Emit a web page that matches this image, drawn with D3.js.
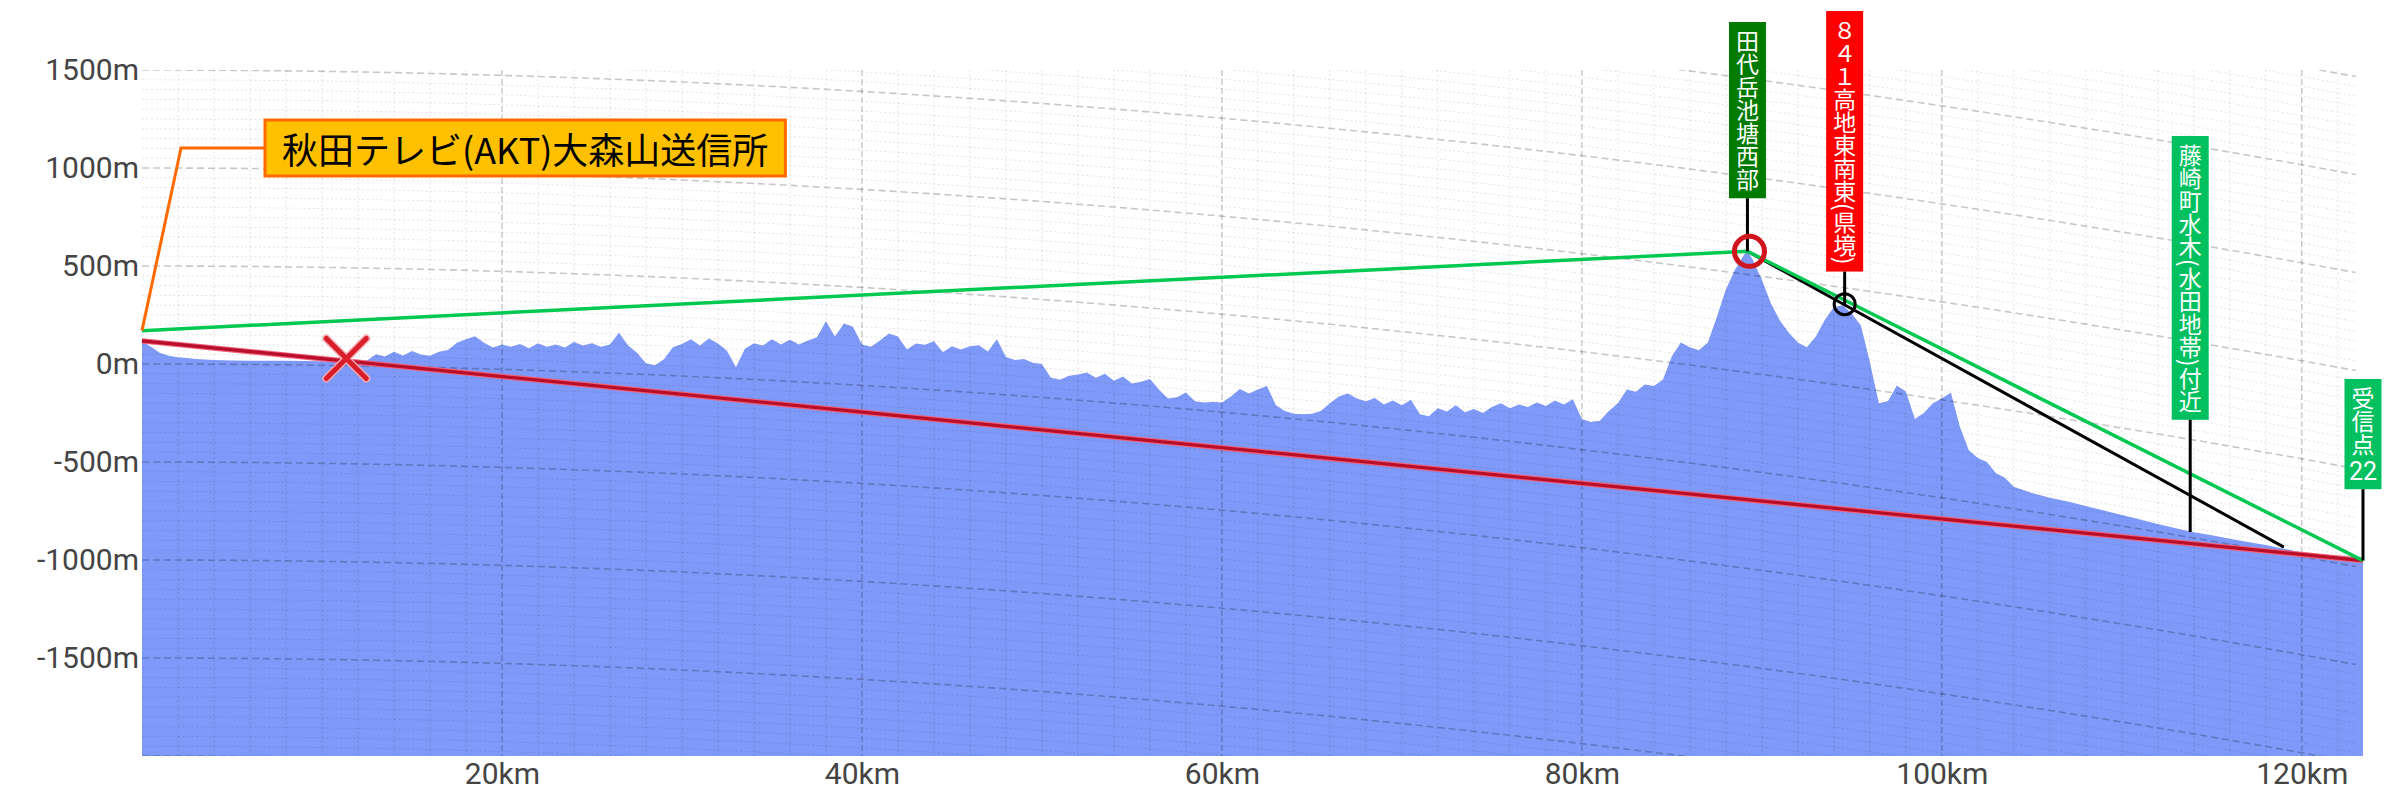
<!DOCTYPE html>
<html>
<head>
<meta charset="utf-8">
<script src="https://cdn.jsdelivr.net/npm/d3@7"></script>
<style>
    body { margin: 0; background: #fff; }
    svg { display: block; }
</style>
</head>
<body>
<script>
//terrain profile (apparent height on the chart, after earth curvature)
var terrainKm = [
    0, 0.5, 1, 1.5, 2, 2.5, 3, 4, 5, 6, 7, 8, 9, 10, 10.5, 11, 11.5, 12, 12.5,
    13, 13.5, 14, 14.5, 15, 15.5, 16, 16.5, 17, 17.5, 18, 18.5, 19, 19.5,
    20, 20.5, 21, 21.5, 22, 22.5, 23, 23.5, 24, 24.5, 25, 25.5, 26, 26.5,
    27, 27.5, 28, 28.5, 29, 29.5, 30, 30.5, 31, 31.5, 32, 32.5, 33, 33.5,
    34, 34.5, 35, 35.5, 36, 36.5, 37, 37.5, 38, 38.5, 39, 39.5,
    40, 40.5, 41, 41.5, 42, 42.5, 43, 43.5, 44, 44.5, 45, 45.5, 46, 46.5,
    47, 47.5, 48, 48.5, 49, 49.5, 50, 50.5, 51, 51.5, 52, 52.5, 53, 53.5,
    54, 54.5, 55, 55.5, 56, 56.5, 57, 57.5, 58, 58.5, 59, 59.5,
    60, 60.5, 61, 61.5, 62, 62.5, 63, 63.5, 64, 64.5, 65, 65.5, 66, 66.5,
    67, 67.5, 68, 68.5, 69, 69.5, 70, 70.5, 71, 71.5, 72, 72.5, 73, 73.5,
    74, 74.5, 75, 75.5, 76, 76.5, 77, 77.5, 78, 78.5, 79, 79.5,
    80, 80.5, 81, 81.5, 82, 82.5, 83, 83.5, 84, 84.5, 85, 85.5, 86, 86.5,
    87, 87.5, 88, 88.5, 89, 89.2, 89.5, 90, 90.5, 91, 91.5, 92, 92.5, 93, 93.5,
    94, 94.5, 95, 95.5, 96, 96.5, 97, 97.5, 98, 98.5, 99, 99.5,
    100, 100.5, 101, 101.5, 102, 102.5, 103, 103.5, 104, 105, 106, 107, 108, 109,
    110, 111, 112, 113, 114, 115, 116, 117, 118, 119, 120, 121, 122, 123, 123.4
];
var terrainElev = [
    115, 88, 56, 42, 35, 30, 26, 20, 18, 17, 16, 16, 15, 14, 12, 12, 12, 13, 18,
    50, 38, 62, 44, 66, 48, 42, 62, 72, 108, 126, 142, 108, 84,
    100, 88, 102, 80, 106, 88, 100, 84, 112, 94, 106, 88, 100, 160,
    96, 58, 4, -6, 24, 86, 102, 126, 94, 130, 104, 68, -16, 78,
    106, 94, 126, 100, 124, 100, 120, 136, 218, 140, 206, 190,
    100, 88, 120, 156, 140, 74, 104, 98, 116, 60, 90, 74, 90, 96,
    64, 126, 36, 20, 26, 6, 0, -70, -80, -60, -54, -44, -70, -50,
    -86, -64, -100, -90, -76, -130, -176, -170, -146, -190, -196, -194,
    -196, -166, -128, -150, -130, -112, -210, -240, -254, -256, -254, -240, -200, -166,
    -150, -176, -190, -174, -206, -186, -210, -182, -256, -266, -226, -242, -210, -246,
    -230, -250, -220, -200, -226, -206, -220, -196, -214, -186, -206, -180,
    -280, -296, -290, -240, -200, -130, -142, -104, -112, -80, 40, 110, 86, 70,
    110, 240, 380, 480, 556, 575, 530, 430, 310, 222, 160, 110, 86, 140, 226,
    290, 300, 256, 196, 10, -200, -190, -110, -140, -280, -250, -200,
    -176, -146, -320, -440, -480, -500, -556, -580, -626, -658, -682, -702, -724, -748,
    -770, -794, -816, -838, -858, -874, -892, -908, -924, -942, -962, -982, -996, -1008, -1012
];

//axis ticks
var yTicks = [-1500, -1000, -500, 0, 500, 1000, 1500];
var xTicks = [20, 40, 60, 80, 100, 120];

//direct line (red), line of sight over the ridge (green), shadow line (black)
var directKm = [0, 123.4];
var directElev = [118, -1003];
var sightKm = [0, 89.2, 123.4];
var sightElev = [170, 575, -1003];
var shadowKm = [89.2, 119.0];
var shadowElev = [575, -934];

//obstruction mark
var blockKm = [11.35];
var blockElev = [28];

//transmitter
var stationName = '秋田テレビ(AKT)大森山送信所';
var stationKm = 0;
var stationElev = 170;

//named points
var pointNames = ['田代岳池塘西部', '８４１高地東南東(県境)', '藤崎町水木(水田地帯)付近', '受信点'];
var pointSuffix = ['', '', '', '22'];
var pointKm = [89.2, 94.6, 113.8, 123.4];
var pointElev = [575, 305, -857, -1003];

var effRadiusKm = 7320;

var margin = {top: 70, right: 31, bottom: 39, left: 142};
var width = 2394 - margin.left - margin.right;
var height = 795 - margin.top - margin.bottom;

//label layout (top of each box, in px from top of page)
var labelTop = [22, 11, 136, 379];
var labelFill = ['#007a00', '#ff0000', '#00c060', '#00c060'];

var xScale = d3.scaleLinear().domain([0, 123.4]).range([0, width]);
var yScale = d3.scaleLinear().domain([-2000, 1500]).range([height, 0]);

function drop(km) {
    return km * km / (2 * effRadiusKm) * 1000;
}

var svg = d3.select('body')
    .append('svg')
    .attr('width', 2394)
    .attr('height', 795);

svg.append('defs').append('clipPath')
    .attr('id', 'plot-clip')
    .append('rect')
    .attr('width', width)
    .attr('height', height);

var g = svg.append('g')
    .attr('transform', 'translate(' + margin.left + ',' + margin.top + ')');

var plot = g.append('g').attr('clip-path', 'url(#plot-clip)');

//terrain
var terrain = terrainKm.map(function (k, i) {
    return {km: k, elev: terrainElev[i]};
});

plot.append('path')
    .datum(terrain)
    .attr('fill', '#7e99f8')
    .attr('d', d3.area()
        .x(function (d) { return xScale(d.km); })
        .y0(height)
        .y1(function (d) { return yScale(d.elev); }));

//curved horizontal grid
var samples = d3.range(0, 124, 1);
var gridLine = d3.line()
    .x(function (k) { return xScale(k); })
    .curve(d3.curveMonotoneX);

var levels = d3.range(-2000, 2600, 50);
plot.append('g')
    .selectAll('path')
    .data(levels)
    .enter().append('path')
    .attr('fill', 'none')
    .attr('d', function (v) {
        return gridLine.y(function (k) { return yScale(v - drop(k)); })(samples);
    })
    .attr('stroke', function (v) { return v % 500 === 0 ? 'rgba(0,0,0,0.22)' : 'rgba(0,0,0,0.11)'; })
    .attr('stroke-width', function (v) { return v % 500 === 0 ? 1.6 : 1; })
    .attr('stroke-dasharray', function (v) { return v % 500 === 0 ? '7,4' : '2,2.5'; });

//vertical grid
var columns = d3.range(2, 124, 2);
plot.append('g')
    .selectAll('line')
    .data(columns)
    .enter().append('line')
    .attr('x1', function (k) { return xScale(k); })
    .attr('x2', function (k) { return xScale(k); })
    .attr('y1', 0)
    .attr('y2', height)
    .attr('stroke', function (k) { return k % 20 === 0 ? 'rgba(0,0,0,0.22)' : 'rgba(0,0,0,0.11)'; })
    .attr('stroke-width', function (k) { return k % 20 === 0 ? 1.4 : 1; })
    .attr('stroke-dasharray', function (k) { return k % 20 === 0 ? '6,3' : '2,2.5'; });

//axes
var yAxis = g.append('g')
    .call(d3.axisLeft(yScale).tickValues(yTicks).tickSize(0).tickPadding(3)
        .tickFormat(function (d) { return d + 'm'; }));
var xAxis = g.append('g')
    .attr('transform', 'translate(0,' + height + ')')
    .call(d3.axisBottom(xScale).tickValues(xTicks).tickSize(0).tickPadding(7)
        .tickFormat(function (d) { return d + 'km'; }));

[yAxis, xAxis].forEach(function (ax) {
    ax.select('.domain').remove();
    ax.attr('font-family', 'Roboto, sans-serif').attr('font-size', 30);
    ax.selectAll('text').attr('fill', '#444');
});

//lines
function pathOf(kms, elevs) {
    return d3.line()(kms.map(function (k, i) { return [xScale(k), yScale(elevs[i])]; }));
}

var lines = g.append('g').attr('fill', 'none');

lines.append('path')
    .attr('d', pathOf(directKm, directElev))
    .attr('stroke', '#f06078')
    .attr('stroke-width', 5.5);
lines.append('path')
    .attr('d', pathOf(directKm, directElev))
    .attr('stroke', '#b80e2a')
    .attr('stroke-width', 3.2);

lines.append('path')
    .attr('d', pathOf(shadowKm, shadowElev))
    .attr('stroke', '#000')
    .attr('stroke-width', 3);

lines.append('path')
    .attr('d', pathOf(sightKm, sightElev))
    .attr('stroke', '#00c850')
    .attr('stroke-width', 3.5);

//obstruction cross
blockKm.forEach(function (k, i) {
    var cx = xScale(k), cy = yScale(blockElev[i]), s = 20;
    [['#f7a8b0', 8], ['#d81e2a', 5]].forEach(function (st) {
        g.append('path')
            .attr('d', 'M' + (cx - s) + ',' + (cy - s) + 'L' + (cx + s) + ',' + (cy + s) +
                'M' + (cx + s) + ',' + (cy - s) + 'L' + (cx - s) + ',' + (cy + s))
            .attr('stroke', st[0])
            .attr('stroke-width', st[1])
            .attr('stroke-linecap', 'round');
    });
});

//point labels (vertical text)
pointNames.forEach(function (name, i) {
    var cx = xScale(pointKm[i]);
    var py = yScale(pointElev[i]);
    var top = labelTop[i] - margin.top;
    var grp = g.append('g');
    var rect = grp.append('rect');
    var txt = grp.append('text')
        .attr('x', cx)
        .attr('y', top + 8)
        .attr('font-family', '"Noto Sans CJK JP", sans-serif')
        .attr('font-size', 23)
        .attr('fill', '#fff')
        .style('writing-mode', 'vertical-rl')
        .text(name);
    var bb = txt.node().getBBox();
    var bottom = bb.y + bb.height;
    if (pointSuffix[i]) {
        grp.append('text')
            .attr('x', cx)
            .attr('y', bottom + 24)
            .attr('text-anchor', 'middle')
            .attr('font-family', 'Roboto, sans-serif')
            .attr('font-size', 25)
            .attr('fill', '#fff')
            .text(pointSuffix[i]);
        bottom += 26;
    }
    bottom += 7;
    rect.attr('x', cx - 18.5)
        .attr('y', top)
        .attr('width', 37)
        .attr('height', bottom - top)
        .attr('fill', labelFill[i]);
    grp.append('line')
        .attr('x1', cx).attr('x2', cx)
        .attr('y1', bottom).attr('y2', py)
        .attr('stroke', '#000')
        .attr('stroke-width', 3);
});

//markers on the ridge
g.append('circle')
    .attr('cx', xScale(pointKm[0]) + 2)
    .attr('cy', yScale(pointElev[0]))
    .attr('r', 15)
    .attr('fill', 'none')
    .attr('stroke', '#d0141e')
    .attr('stroke-width', 5);
g.append('circle')
    .attr('cx', xScale(pointKm[1]))
    .attr('cy', yScale(pointElev[1]))
    .attr('r', 10.5)
    .attr('fill', 'none')
    .attr('stroke', '#000')
    .attr('stroke-width', 3);

//transmitter label
var boxLeft = 265 - margin.left, boxMid = 148 - margin.top, elbowX = 181 - margin.left;
g.append('path')
    .attr('d', 'M' + boxLeft + ',' + boxMid + 'L' + elbowX + ',' + boxMid +
        'L' + xScale(stationKm) + ',' + yScale(stationElev))
    .attr('fill', 'none')
    .attr('stroke', '#ff6a00')
    .attr('stroke-width', 3);

var stBox = g.append('rect');
var stText = g.append('text')
    .attr('x', boxLeft + 17)
    .attr('y', boxMid)
    .attr('dominant-baseline', 'central')
    .attr('font-family', '"Noto Sans CJK JP", sans-serif')
    .attr('font-size', 36)
    .attr('fill', '#000')
    .text(stationName);
var sb = stText.node().getBBox();
stBox.attr('x', boxLeft)
    .attr('y', boxMid - 28)
    .attr('width', sb.width + 34)
    .attr('height', 56)
    .attr('fill', '#ffc000')
    .attr('stroke', '#ff6a00')
    .attr('stroke-width', 3);
</script>
</body>
</html>
